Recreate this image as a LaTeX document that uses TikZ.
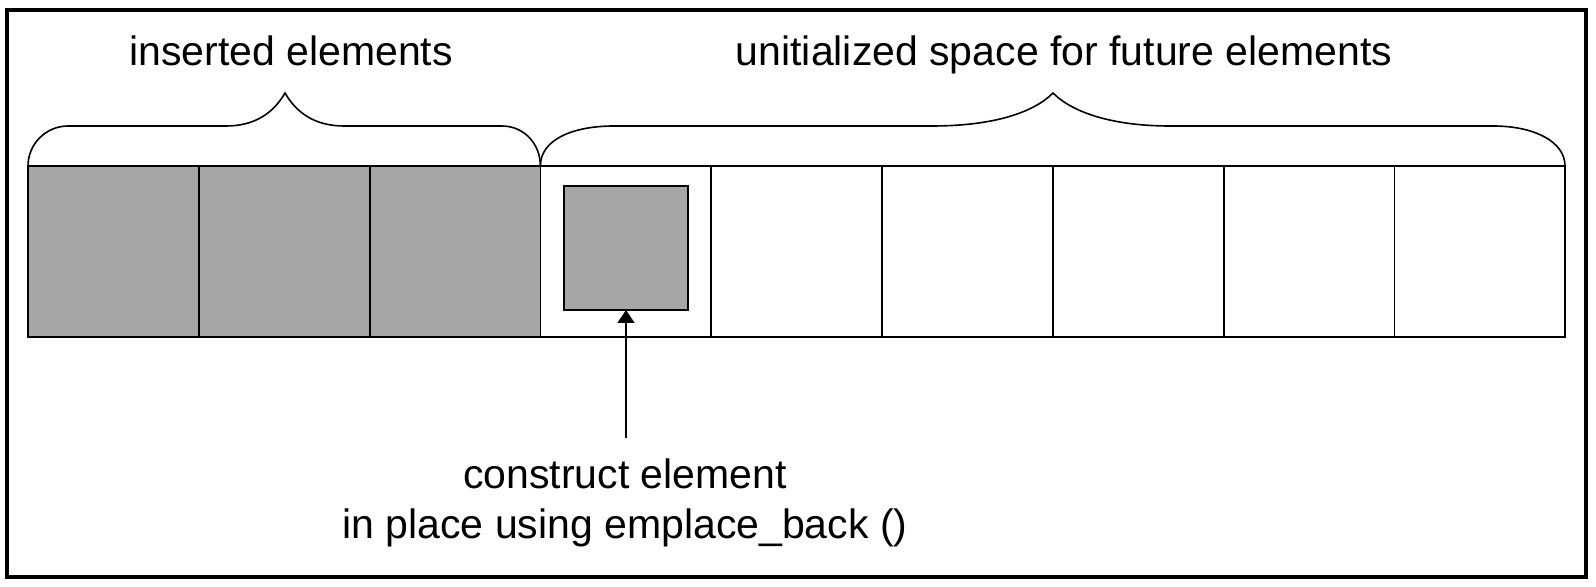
\documentclass[tikz,border=0pt]{standalone}
\usepackage{fontspec}
\setmainfont{Liberation Sans}
\usetikzlibrary{arrows.meta}
\tikzset{>={Triangle[width=8.5pt,length=6.5pt]}}
\definecolor{slotgray}{RGB}{166,166,166}
\tikzset{
  slot/.style = {draw, line width=0.9pt, minimum size=85.4pt, inner sep=0pt, outer sep=0pt},
  filled/.style = {slot, fill=slotgray},
  brace/.style = {line width=0.8pt},
  caption/.style = {font=\fontsize{20.5}{25}\selectfont, inner sep=0pt}
}

\begin{document}
\begin{tikzpicture}[x=0.5pt,y=-0.5pt]
  \useasboundingbox (0,0) rectangle (1596,587);
  % frame
  \draw[line width=1.75pt] (7,10) rectangle (1586,577);
  % slots
  \foreach \i in {0,1,2}   { \node[filled] (c\i) at ({28+170.8*(\i+0.5)},251.5) {}; };
  \foreach \i in {3,...,8} { \node[slot]   (c\i) at ({28+170.8*(\i+0.5)},251.5) {}; };
  % element built in place
  \node[filled, minimum size=62pt] (inner) at (626,248) {};
  % braces
  \draw[brace] (28,166) .. controls (28,144) and (46,126) .. (68,126) -- (226,126)
    .. controls (256,126) and (274,112) .. (285,93)
    .. controls (296,112) and (314,126) .. (344,126) -- (502,126)
    .. controls (524,126) and (540.4,144) .. (540.4,166);
  \draw[brace] (540.4,166) .. controls (540.4,140) and (572,126) .. (614,126) -- (932,126)
    .. controls (990,126) and (1032,114) .. (1053,93)
    .. controls (1074,114) and (1116,126) .. (1170,126) -- (1493,126)
    .. controls (1535,126) and (1565,142) .. (1565,166);
  % labels
  \node[caption, anchor=base] (ins)  at (291,66)  {inserted elements};
  \node[caption, anchor=base] (free) at (1064,66) {unitialized space for future elements};
  \node[caption, align=center, anchor=north, inner ysep=10pt] (emp) at (625,438)
    {construct element\\in place using emplace\_back ()};
  \draw[->, line width=0.75pt] (emp.north -| inner.south) -- (inner.south);
\end{tikzpicture}
\end{document}
